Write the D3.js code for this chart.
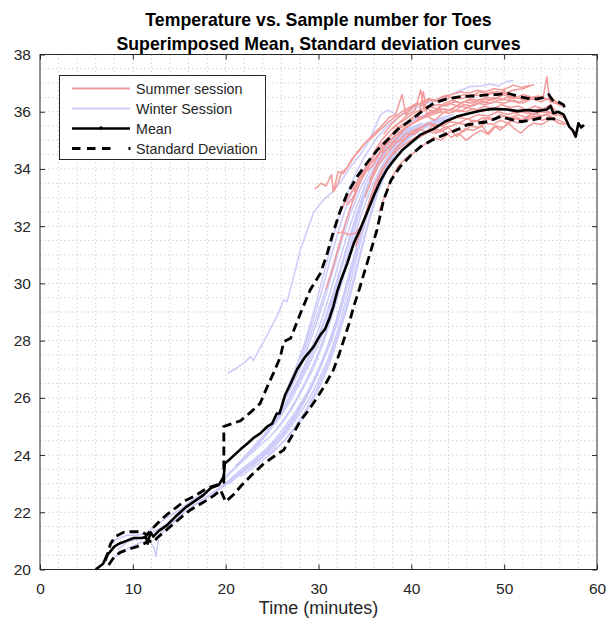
<!DOCTYPE html>
<html>
<head>
<meta charset="utf-8">
<script src="https://cdn.jsdelivr.net/npm/d3@7"></script>
<style>
body{margin:0;background:#fff;}
svg{display:block;font-family:"Liberation Sans",Arial,sans-serif;}
</style>
</head>
<body>
<script>
// axis ranges and ticks
var xDomain = [0, 60], yDomain = [20, 38];
var xTicks = [0, 10, 20, 30, 40, 50, 60];
var yTicks = [20, 22, 24, 26, 28, 30, 32, 34, 36, 38];
var titleLines = ['Temperature vs. Sample number for Toes', 'Superimposed Mean, Standard deviation curves'];
var xLabel = 'Time (minutes)';
var legendLabels = ['Summer session', 'Winter Session', 'Mean', 'Standard Deviation'];

// mean curve [minutes, degC]
var meanCurve = [[6.0,20.0],[6.8,20.2],[7.2,20.5],[7.5,20.6],[8.0,20.8],[8.5,20.9],[9.3,21.0],[10.1,21.1],[11.0,21.1],[11.4,21.15],[11.6,20.9],[11.9,21.3],[12.2,21.15],[12.8,21.35],[13.7,21.55],[14.6,21.85],[15.8,22.2],[16.7,22.4],[17.6,22.6],[18.4,22.85],[19.25,22.95],[19.8,23.25],[19.9,23.7],[20.6,23.9],[21.6,24.2],[22.5,24.45],[23.0,24.6],[23.7,24.75],[24.5,25.0],[25.0,25.1],[25.5,25.45],[25.8,25.45],[26.4,26.1],[27.0,26.5],[27.7,27.0],[28.5,27.4],[29.5,27.8],[30.2,28.2],[30.7,28.4],[31.2,28.8],[31.6,29.2],[32.0,29.7],[32.4,30.1],[33.1,30.7],[33.8,31.4],[34.5,31.9],[35.2,32.45],[36.0,33.1],[36.7,33.6],[37.4,34.0],[38.1,34.3],[39.0,34.65],[39.9,34.9],[41.0,35.2],[42.4,35.4],[43.6,35.65],[44.9,35.83],[46.3,35.95],[47.8,36.06],[49.0,36.1],[50.3,36.08],[51.4,36.02],[52.5,36.06],[53.5,36.02],[54.6,36.08],[55.0,36.2],[55.3,35.95],[55.8,36.0],[56.4,35.9],[56.7,35.7],[57.0,35.48],[57.4,35.35],[57.7,35.13],[58.0,35.6],[58.3,35.45],[58.6,35.54]];

var stdUpper = [[7.0,20.3],[7.2,20.45],[7.6,20.9],[8.1,21.15],[9.0,21.3],[9.7,21.32],[11.0,21.32],[11.5,21.2],[11.9,21.36],[13.0,21.73],[13.8,21.95],[14.8,22.2],[15.6,22.4],[16.55,22.55],[17.3,22.7],[18.0,22.84],[19.45,23.0],[19.8,23.05],[19.8,25.0],[20.7,25.1],[21.6,25.2],[22.7,25.5],[23.7,25.8],[24.5,26.4],[25.2,26.9],[25.9,27.44],[26.25,27.96],[27.0,28.08],[28.05,28.95],[29.1,29.77],[30.2,30.35],[30.9,31.0],[31.6,31.8],[32.3,32.5],[33.1,33.15],[34.2,33.75],[35.2,34.2],[36.3,34.65],[37.4,35.0],[38.6,35.4],[39.9,35.7],[41.1,36.0],[42.4,36.3],[43.8,36.45],[45.3,36.53],[46.8,36.55],[48.2,36.59],[49.2,36.6],[50.3,36.65],[51.4,36.55],[52.5,36.47],[53.5,36.45],[54.3,36.5],[54.8,36.6],[55.3,36.36],[55.8,36.35],[56.4,36.24],[56.6,36.0]];

var stdLower = [[7.4,20.16],[8.0,20.45],[8.65,20.6],[9.5,20.7],[10.45,20.8],[11.2,20.9],[11.7,21.0],[12.2,20.95],[12.6,21.1],[13.5,21.35],[14.4,21.6],[15.3,21.85],[16.2,22.08],[17.1,22.25],[18.0,22.43],[18.8,22.6],[19.45,22.78],[20.0,22.37],[20.8,22.6],[21.6,22.9],[22.8,23.3],[24.1,23.7],[25.2,23.95],[26.25,24.18],[27.2,24.7],[28.05,25.2],[29.0,25.6],[29.85,26.0],[30.7,26.45],[31.6,26.97],[32.2,27.5],[32.7,28.0],[33.3,28.6],[33.8,29.2],[34.4,29.8],[34.9,30.35],[35.6,31.1],[36.3,31.87],[37.0,32.9],[37.8,33.6],[38.8,34.08],[40.0,34.5],[41.0,34.78],[42.2,35.0],[43.5,35.19],[44.8,35.35],[46.0,35.54],[47.1,35.6],[48.2,35.65],[49.0,35.75],[49.6,35.83],[50.5,35.75],[51.8,35.65],[52.8,35.7],[53.9,35.78],[54.8,35.75],[55.7,35.75]];

// individual winter session runs
var winterRuns = [
  [[7.3,20.8],[8.2,21.05],[9.4,21.2],[10.6,21.2],[11.5,21.3],[12.4,21.5],[13.6,21.8],[14.9,22.05],[16.1,22.35],[17.2,22.6],[18.5,22.85],[19.7,23.1],[21.0,23.55],[22.3,24.0],[23.5,24.35],[24.6,24.8],[25.8,25.3],[27.0,25.9],[28.1,26.6],[29.2,27.3],[30.3,28.1],[31.2,29.0],[32.1,30.1],[33.0,31.2],[34.0,32.3],[35.1,33.3],[36.3,34.1],[37.5,34.7],[38.8,35.1],[40.1,35.35],[41.0,35.5]],
  [[7.8,20.35],[8.7,20.6],[9.8,20.8],[10.9,20.95],[11.8,21.0],[12.3,20.75],[12.5,20.45],[12.8,21.2],[13.9,21.5],[15.2,21.9],[16.4,22.2],[17.6,22.45],[18.9,22.7],[20.2,23.0],[21.4,23.3],[22.6,23.6],[23.9,23.95],[25.1,24.35],[26.3,24.8],[27.5,25.4],[28.6,26.0],[29.8,26.8],[30.9,27.6],[32.0,28.6],[33.0,29.8],[34.0,31.0],[35.0,32.2],[36.1,33.3],[37.2,34.1],[38.4,34.7],[39.7,35.1],[40.8,35.3]],
  [[8.4,20.7],[9.3,20.95],[10.2,21.05],[11.0,21.1],[11.9,21.25],[13.0,21.45],[14.2,21.75],[15.5,22.0],[16.8,22.3],[18.0,22.55],[19.1,22.8],[20.3,23.1],[21.5,23.45],[22.7,23.75],[24.0,24.1],[25.2,24.5],[26.4,25.0],[27.6,25.55],[28.8,26.2],[30.0,27.0],[31.1,27.9],[32.2,29.0],[33.2,30.2],[34.2,31.4],[35.3,32.6],[36.4,33.5],[37.6,34.2],[38.9,34.8],[40.2,35.2],[41.5,35.45],[42.6,35.6]],
  [[19.6,22.9],[20.8,23.2],[22.0,23.5],[23.3,23.85],[24.5,24.2],[25.7,24.6],[26.9,25.1],[28.1,25.7],[29.3,26.4],[30.4,27.2],[31.5,28.1],[32.5,29.2],[33.5,30.4],[34.5,31.7],[35.5,32.9],[36.6,33.9],[37.8,34.6],[39.0,35.1],[40.3,35.4],[41.6,35.6],[43.0,35.75]],
  [[20.1,23.3],[21.2,23.6],[22.4,23.95],[23.6,24.3],[24.8,24.65],[25.9,25.05],[27.1,25.6],[28.3,26.3],[29.4,27.0],[30.5,27.9],[31.5,28.9],[32.5,30.0],[33.5,31.2],[34.5,32.3],[35.6,33.3],[36.8,34.1],[38.0,34.7],[39.3,35.1],[40.5,35.35],[41.8,35.55]],
  [[20.4,23.0],[21.6,23.35],[22.9,23.65],[24.1,23.95],[25.3,24.3],[26.5,24.75],[27.7,25.3],[28.9,25.9],[30.0,26.6],[31.1,27.4],[32.1,28.4],[33.1,29.6],[34.1,30.9],[35.1,32.2],[36.1,33.3],[37.2,34.1],[38.4,34.7],[39.6,35.15],[40.9,35.45],[42.2,35.65],[43.5,35.8]],
  [[21.0,23.6],[22.2,24.0],[23.3,24.4],[24.4,24.8],[25.5,25.3],[26.6,25.85],[27.7,26.5],[28.8,27.2],[29.9,28.0],[30.9,28.9],[31.9,29.9],[32.9,31.0],[33.9,32.1],[35.0,33.1],[36.1,33.9],[37.3,34.6],[38.6,35.1],[39.9,35.4],[41.2,35.6]],
  [[21.5,23.25],[22.7,23.5],[23.9,23.8],[25.1,24.1],[26.3,24.5],[27.5,25.0],[28.7,25.6],[29.8,26.3],[30.9,27.1],[31.9,28.0],[32.9,29.1],[33.9,30.3],[34.9,31.6],[35.9,32.8],[36.9,33.8],[38.0,34.5],[39.2,35.0],[40.5,35.3],[41.8,35.5],[43.1,35.65],[44.4,35.8]],
  [[22.0,23.9],[23.2,24.3],[24.3,24.75],[25.4,25.2],[26.5,25.75],[27.6,26.4],[28.7,27.1],[29.7,27.9],[30.7,28.8],[31.7,29.8],[32.7,30.9],[33.7,32.0],[34.7,33.0],[35.8,33.8],[37.0,34.5],[38.3,35.0],[39.6,35.3],[40.9,35.5]],
  [[22.8,23.6],[24.0,23.95],[25.2,24.35],[26.4,24.8],[27.6,25.35],[28.7,26.0],[29.8,26.75],[30.8,27.6],[31.8,28.6],[32.8,29.7],[33.8,30.9],[34.8,32.1],[35.8,33.2],[36.9,34.0],[38.1,34.7],[39.4,35.15],[40.7,35.45],[42.0,35.65],[43.3,35.8],[44.6,35.9]],
  [[23.5,24.4],[24.6,24.9],[25.7,25.4],[26.8,26.0],[27.9,26.7],[29.0,27.5],[30.0,28.4],[31.0,29.4],[32.0,30.5],[33.0,31.6],[34.0,32.6],[35.1,33.5],[36.2,34.2],[37.4,34.8],[38.7,35.2],[40.0,35.5]],
  [[24.5,24.0],[25.7,24.3],[26.9,24.7],[28.1,25.2],[29.2,25.8],[30.3,26.5],[31.3,27.3],[32.3,28.3],[33.3,29.4],[34.3,30.7],[35.3,32.0],[36.3,33.1],[37.3,33.9],[38.4,34.6],[39.6,35.1],[40.9,35.4],[42.2,35.6],[43.6,35.75],[45.0,35.85]],
  [[25.5,24.9],[26.6,25.4],[27.7,26.0],[28.8,26.7],[29.9,27.5],[30.9,28.4],[31.9,29.5],[32.9,30.7],[33.9,31.9],[34.9,33.0],[36.0,33.9],[37.2,34.6],[38.5,35.1],[39.8,35.4],[41.1,35.6]],
  [[24.8,25.0],[25.9,25.6],[27.0,26.4],[28.0,27.2],[29.0,28.1],[30.0,29.0],[30.9,29.9],[31.8,30.9],[32.7,31.9],[33.6,32.8],[34.6,33.6],[35.7,34.3],[36.9,34.9],[38.2,35.3],[39.5,35.6],[40.9,35.8],[42.2,35.95]],
  [[26.5,26.2],[27.5,27.0],[28.5,27.9],[29.4,28.9],[30.3,30.0],[31.1,31.0],[31.9,32.0],[32.8,32.9],[33.8,33.7],[34.9,34.4],[36.1,35.0],[37.4,35.5],[38.8,35.85],[40.2,36.1],[41.7,36.3],[43.5,36.5],[45.0,36.7],[46.3,36.88],[47.5,36.9],[48.5,36.97],[49.4,36.9],[50.2,37.05],[51.0,37.09]],
  [[20.2,26.86],[21.0,27.0],[21.9,27.2],[22.7,27.44],[23.0,27.3],[23.3,27.5],[24.0,27.9],[24.8,28.4],[25.6,28.9],[26.25,29.42],[26.6,29.35],[27.3,30.2],[28.05,31.17],[28.8,31.87],[29.5,32.5],[30.5,32.9],[31.5,33.2],[32.5,33.6],[33.5,34.1],[34.5,34.5],[35.3,34.9],[36.0,35.4],[36.7,35.9],[37.4,36.05],[37.8,36.0],[38.3,35.9],[38.8,35.83]],
  [[27.5,27.0],[28.5,27.8],[29.5,28.8],[30.5,29.9],[31.4,31.0],[32.3,32.0],[33.2,32.9],[34.2,33.6],[35.3,34.2],[36.5,34.7],[37.8,35.15],[39.1,35.5],[40.4,35.75],[41.8,35.95],[43.2,36.1]],
  [[26.0,25.7],[27.0,26.3],[28.0,27.0],[29.0,27.9],[29.9,28.7],[30.8,29.6],[31.7,30.6],[32.6,31.6],[33.5,32.5],[34.5,33.3],[35.6,34.0],[36.8,34.6],[38.1,35.05],[39.4,35.35],[40.7,35.55]]
];

// individual summer session runs
var summerRuns = [
  [[29.6,33.3],[30.3,33.5],[30.8,33.4],[31.4,33.8],[31.6,33.2],[32.1,33.9],[32.7,33.85],[33.4,34.2],[34.2,34.6],[35.0,34.9],[35.9,35.2],[36.8,35.5],[37.6,35.8],[38.3,35.9],[39.0,36.6],[39.4,35.9],[40.3,36.2],[41.2,36.3],[42.0,36.4],[43.1,36.35],[44.2,36.5],[45.4,36.45],[46.5,36.6],[47.6,36.55],[48.7,36.7],[49.8,36.6],[50.9,36.75],[52.0,36.8],[52.8,36.9]],
  [[32.0,31.75],[32.6,31.8],[33.2,31.7],[34.0,31.75],[34.7,32.05],[35.4,32.7],[36.1,33.3],[36.8,33.9],[37.5,34.3],[38.3,34.7],[39.2,35.0],[40.0,35.3],[41.0,35.45],[42.0,35.6],[43.0,35.5],[44.0,35.7],[45.0,35.8],[46.1,35.75],[47.2,35.9],[48.3,35.85],[49.3,36.0],[50.4,35.9],[51.5,36.0],[52.6,35.95],[53.7,36.1],[54.8,36.0],[55.8,35.9],[56.6,35.75]],
  [[30.8,29.8],[31.5,30.5],[32.2,31.3],[32.9,32.1],[33.6,32.8],[34.3,33.4],[35.0,33.9],[35.8,34.4],[36.7,34.8],[37.6,35.1],[38.5,35.45],[39.4,35.6],[40.3,35.85],[41.2,35.8],[42.1,36.0],[43.0,36.1],[44.0,36.05],[45.0,36.2],[46.0,36.15],[47.0,36.3],[48.0,36.25],[49.0,36.35],[50.0,36.3],[51.0,36.4],[52.0,36.3],[53.0,36.45],[54.0,36.35],[55.0,36.5],[55.8,36.3]],
  [[33.1,32.74],[33.7,33.0],[34.4,33.5],[35.1,33.9],[35.8,34.1],[36.5,34.5],[37.2,34.8],[38.0,35.1],[38.9,35.3],[39.8,35.55],[40.7,35.7],[41.3,36.7],[41.7,35.9],[42.6,36.0],[43.6,36.1],[44.6,36.0],[45.6,36.25],[46.6,36.2],[47.6,36.35],[48.6,36.3],[49.6,36.45],[50.6,36.4],[51.6,36.3],[52.6,36.5]],
  [[34.0,31.3],[34.7,32.0],[35.4,32.8],[36.1,33.5],[36.9,34.0],[37.7,34.4],[38.6,34.7],[39.5,34.9],[40.4,35.1],[41.3,35.2],[42.2,35.35],[43.1,35.3],[44.0,35.45],[44.9,35.13],[45.8,35.4],[46.7,35.35],[47.6,35.5],[48.2,35.25],[49.0,35.5],[49.6,35.36],[50.5,35.6],[51.0,35.43],[51.8,35.25],[52.6,35.5],[53.2,35.6],[54.0,35.55],[54.8,35.7]],
  [[35.5,33.6],[36.2,34.1],[36.9,34.5],[37.7,34.85],[38.5,35.1],[39.3,35.4],[40.1,35.6],[40.9,35.75],[41.7,35.85],[42.5,35.7],[43.4,35.95],[44.3,36.1],[45.2,36.0],[46.1,36.15],[47.0,36.05],[47.9,36.2],[48.8,36.1],[49.7,36.25],[50.6,36.15],[51.5,36.2],[52.4,36.05],[53.3,36.2],[54.2,36.1],[55.0,36.25],[55.6,36.0],[56.3,35.95],[56.8,35.6],[57.2,35.4],[57.7,35.1],[58.0,35.6],[58.3,35.45],[58.6,35.54]],
  [[36.0,34.6],[36.8,35.0],[37.6,35.3],[38.4,35.55],[39.2,35.7],[40.0,35.9],[40.9,36.05],[41.8,36.2],[42.7,36.1],[43.6,36.3],[44.5,36.4],[45.4,36.3],[46.3,36.45],[47.2,36.4],[48.1,36.5],[49.0,36.45],[49.9,36.6],[50.8,36.5],[51.7,36.45],[52.6,36.55],[53.5,36.4],[54.2,36.5],[54.6,37.22],[54.9,36.35],[55.5,36.3],[56.2,36.2]],
  [[37.0,35.2],[37.8,35.55],[38.6,35.8],[39.4,36.0],[40.2,36.2],[41.0,36.3],[41.8,36.45],[42.6,36.4],[43.5,36.55],[44.4,36.6],[45.3,36.7],[46.2,36.65],[47.1,36.75],[48.0,36.7],[48.9,36.8],[49.8,36.76],[50.5,36.85],[51.0,36.93],[51.8,36.85],[52.5,36.9],[53.2,36.93]],
  [[33.8,33.2],[34.5,33.7],[35.2,34.0],[35.9,34.3],[36.6,34.55],[37.4,34.7],[38.2,34.95],[39.0,35.0],[39.9,35.2],[40.8,35.4],[41.6,35.3],[42.4,35.55],[43.3,35.5],[44.2,35.65],[45.1,35.6],[46.0,35.75],[46.9,35.65],[47.8,35.8],[48.7,35.7],[49.6,35.9],[50.5,35.75],[51.4,35.8],[52.3,35.65],[53.2,35.85],[54.1,35.7],[55.0,35.8],[55.8,35.6],[56.5,35.55]],
  [[35.0,33.0],[35.7,33.6],[36.4,34.1],[37.1,34.4],[37.9,34.75],[38.7,35.0],[39.5,35.25],[40.3,35.2],[41.1,35.45],[41.9,35.6],[42.7,35.4],[43.5,35.3],[44.3,35.1],[45.1,35.25],[45.9,35.0],[46.7,35.2],[47.5,35.35],[48.3,35.2],[49.1,35.5],[49.9,35.45],[50.7,35.7],[51.5,35.6],[52.3,35.8],[53.1,35.75],[53.9,35.9]],
  [[32.5,32.6],[33.2,33.0],[33.9,33.4],[34.6,33.8],[35.4,34.1],[36.2,34.4],[37.0,34.8],[37.8,35.0],[38.7,35.3],[39.6,35.5],[40.5,35.65],[41.4,35.8],[42.3,35.9],[43.2,36.0],[44.1,35.95],[45.0,36.05],[45.9,36.0],[46.8,36.1],[47.7,36.0],[48.6,36.15],[49.5,36.05],[50.4,36.1],[51.3,35.95],[52.2,36.05],[53.1,35.9],[54.0,36.0],[54.9,35.95],[55.7,35.85]],
  [[31.6,33.2],[32.1,33.5],[32.5,33.9],[33.0,34.0],[33.6,34.35],[34.3,34.6],[35.0,34.9],[35.8,35.1],[36.6,35.35],[37.4,35.6],[38.2,35.8],[39.0,36.0],[39.8,36.15],[40.6,36.3],[41.3,36.2],[42.0,36.45],[42.9,36.35],[43.8,36.55],[44.7,36.45],[45.6,36.6],[46.5,36.55],[47.4,36.7],[48.3,36.6],[49.2,36.7],[50.1,36.65]],
  [[36.5,32.5],[37.2,33.1],[37.9,33.7],[38.6,34.1],[39.3,34.35],[40.0,34.5],[40.8,34.7],[41.6,34.9],[42.4,35.1],[43.2,35.0],[44.0,35.25],[44.8,35.4],[45.6,35.3],[46.4,35.5],[47.2,35.45],[48.0,35.6],[48.8,35.55],[49.6,35.7],[50.4,35.6],[51.2,35.75],[52.0,35.7],[52.8,35.85],[53.6,35.8],[54.4,35.9],[55.2,35.8]],
  [[34.8,33.9],[35.5,34.3],[36.2,34.6],[36.9,34.9],[37.7,35.15],[38.5,35.4],[39.3,35.5],[40.1,35.75],[40.9,35.95],[41.7,36.1],[42.5,36.0],[43.3,36.2],[44.1,36.3],[44.9,36.2],[45.7,36.35],[46.5,36.3],[47.3,36.4],[48.1,36.35],[48.9,36.5],[49.7,36.4],[50.5,36.55],[51.3,36.5],[52.1,36.6],[52.9,36.5],[53.7,36.55],[54.5,36.45],[55.3,36.4],[56.0,36.25]],
  [[38.0,35.4],[38.8,35.65],[39.6,35.9],[40.4,36.05],[41.0,36.76],[41.4,36.1],[42.2,36.2],[43.0,36.25],[43.8,36.2],[44.6,36.35],[45.4,36.3],[46.2,36.4],[47.0,36.35],[47.8,36.45],[48.6,36.4],[49.4,36.5],[50.0,36.76],[50.6,36.45],[51.4,36.5],[52.2,36.4],[53.0,36.5]],
  [[39.5,34.9],[40.3,35.0],[41.1,35.15],[41.9,35.3],[42.7,35.25],[43.5,35.45],[44.3,35.5],[45.1,35.6],[45.9,35.55],[46.7,35.7],[47.5,35.65],[48.3,35.8],[49.1,35.75],[49.9,35.85],[50.7,35.8],[51.5,35.9],[52.3,35.8],[53.1,35.95],[53.9,35.85],[54.7,35.9],[55.5,35.75],[56.2,35.65],[56.8,35.55]]
];

(function(){
var W = 610, H = 623,
  left = 40, right = 597, top = 54.5, bottom = 569.5,
  axisColor = '#262626',
  summerColor = '#f29a9a', winterColor = '#cbcbfa',
  svg = d3.select('body').append('svg').attr('width', W).attr('height', H),
  x = d3.scaleLinear().domain(xDomain).range([left, right]),
  y = d3.scaleLinear().domain(yDomain).range([bottom, top]),
  line = d3.line().x(function(d){ return x(d[0]); }).y(function(d){ return y(d[1]); }),
  drawGrid = function(){
    var g = svg.append('g').attr('class', 'grid')
      .attr('stroke', '#d4d4d4').attr('stroke-width', 1).attr('stroke-dasharray', '1.5,2.5');
    // minor grid: every 2 min, every 0.5 degC
    d3.range(2, 60, 2).forEach(function(v){
      g.append('line').attr('x1', x(v)).attr('x2', x(v)).attr('y1', top).attr('y2', bottom);
    });
    d3.range(20.5, 38, 0.5).forEach(function(v){
      g.append('line').attr('x1', left).attr('x2', right).attr('y1', y(v)).attr('y2', y(v));
    });
  },
  drawRuns = function(runs, color){
    svg.append('g').selectAll('path').data(runs).enter().append('path')
      .attr('d', line).attr('fill', 'none')
      .attr('stroke', color).attr('stroke-width', 1.5).attr('stroke-linejoin', 'round');
  },
  drawAxes = function(){
    var ax = function(g){
      g.select('.domain').remove();
      g.selectAll('line').attr('stroke', axisColor);
      g.selectAll('text').attr('fill', axisColor).attr('font-size', 15.5);
    };
    svg.append('g').attr('transform', 'translate(0,' + bottom + ')')
      .call(d3.axisBottom(x).tickValues(xTicks).tickSizeInner(-5).tickSizeOuter(0).tickPadding(13.5))
      .call(ax);
    svg.append('g').attr('transform', 'translate(0,' + top + ')')
      .call(d3.axisTop(x).tickValues(xTicks).tickSizeInner(-5).tickSizeOuter(0).tickFormat(''))
      .call(ax);
    svg.append('g').attr('transform', 'translate(' + left + ',0)')
      .call(d3.axisLeft(y).tickValues(yTicks).tickSizeInner(-5).tickSizeOuter(0).tickPadding(9))
      .call(ax);
    svg.append('g').attr('transform', 'translate(' + right + ',0)')
      .call(d3.axisRight(y).tickValues(yTicks).tickSizeInner(-5).tickSizeOuter(0).tickFormat(''))
      .call(ax);
    svg.append('rect').attr('x', left).attr('y', top)
      .attr('width', right - left).attr('height', bottom - top)
      .attr('fill', 'none').attr('stroke', axisColor).attr('stroke-width', 1);
  },
  drawText = function(){
    titleLines.forEach(function(t, i){
      svg.append('text').attr('x', (left + right) / 2).attr('y', 26 + i * 23.5)
        .attr('text-anchor', 'middle').attr('font-size', 17.7).attr('font-weight', 'bold')
        .attr('fill', '#000').text(t);
    });
    svg.append('text').attr('x', (left + right) / 2).attr('y', 614)
      .attr('text-anchor', 'middle').attr('font-size', 18).attr('fill', axisColor).text(xLabel);
  },
  drawLegend = function(){
    var g = svg.append('g').attr('class', 'legend'),
      lx0 = 72, lx1 = 130, rowY = [88.5, 108.5, 128.5, 148.5];
    g.append('rect').attr('x', 59.5).attr('y', 75.5).attr('width', 206).attr('height', 84)
      .attr('fill', '#fff').attr('stroke', axisColor).attr('stroke-width', 1);
    g.append('line').attr('x1', lx0).attr('x2', lx1).attr('y1', rowY[0]).attr('y2', rowY[0])
      .attr('stroke', summerColor).attr('stroke-width', 2);
    g.append('line').attr('x1', lx0).attr('x2', lx1).attr('y1', rowY[1]).attr('y2', rowY[1])
      .attr('stroke', winterColor).attr('stroke-width', 2);
    g.append('line').attr('x1', lx0).attr('x2', lx1).attr('y1', rowY[2]).attr('y2', rowY[2])
      .attr('stroke', '#000').attr('stroke-width', 2.6);
    g.append('circle').attr('cx', (lx0 + lx1) / 2).attr('cy', rowY[2] - 0.5).attr('r', 1.8).attr('fill', '#000');
    g.append('line').attr('x1', lx0).attr('x2', lx1 + 1).attr('y1', rowY[3]).attr('y2', rowY[3])
      .attr('stroke', '#000').attr('stroke-width', 2.8).attr('stroke-dasharray', '8.5,6.5,8.5,6.5,8.5,18,2,100');
    legendLabels.forEach(function(t, i){
      g.append('text').attr('x', 136).attr('y', rowY[i]).attr('dy', '0.35em')
        .attr('font-size', 14.3).attr('fill', axisColor).text(t);
    });
  };

svg.append('rect').attr('width', W).attr('height', H).attr('fill', '#fff');
drawGrid();
drawRuns(winterRuns, winterColor);
drawRuns(summerRuns, summerColor);
svg.append('path').datum(stdUpper).attr('d', line).attr('fill', 'none')
  .attr('stroke', '#000').attr('stroke-width', 2.8).attr('stroke-dasharray', '9,5');
svg.append('path').datum(stdLower).attr('d', line).attr('fill', 'none')
  .attr('stroke', '#000').attr('stroke-width', 2.8).attr('stroke-dasharray', '9,5');
svg.append('path').datum(meanCurve).attr('d', line).attr('fill', 'none')
  .attr('stroke', '#000').attr('stroke-width', 2.6).attr('stroke-linejoin', 'round');
drawAxes();
drawLegend();
drawText();
})();
</script>
</body>
</html>
